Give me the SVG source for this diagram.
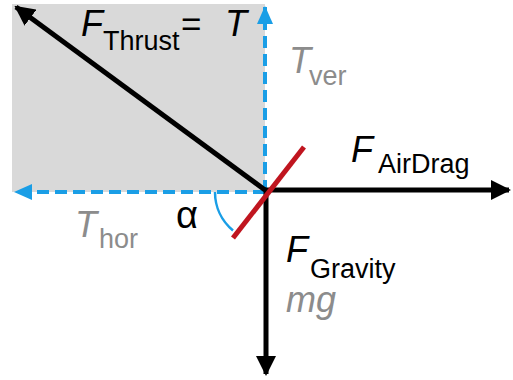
<svg xmlns="http://www.w3.org/2000/svg" width="513" height="380" viewBox="0 0 513 380">
<defs>
<style>
.blk{stroke:#000;stroke-width:5;fill:none}
.blue{stroke:#1a9ee6;stroke-width:4;stroke-dasharray:12 6;fill:none}
.t{font-family:"Liberation Sans",Arial,sans-serif}
.big{font-size:36px;font-style:italic}
.sub{font-size:27px}
.gray{fill:#8c8c8c}
</style>
<marker id="ah" viewBox="0 0 20 20" refX="18" refY="10" markerWidth="20" markerHeight="20" markerUnits="userSpaceOnUse" orient="auto"><path d="M0,0 L20,10 L0,20 Z" fill="#000"/></marker>
<marker id="bh" viewBox="0 0 18 16" refX="17" refY="8" markerWidth="18" markerHeight="16" markerUnits="userSpaceOnUse" orient="auto"><path d="M0,0 L18,8 L0,16 Z" fill="#1a9ee6"/></marker>
</defs>
<rect x="12" y="4" width="253" height="188" fill="#d9d9d9"/>
<g id="connectors">
<line class="blue" x1="265" y1="192" x2="265" y2="7" marker-end="url(#bh)"/>
<line class="blue" x1="265" y1="192" x2="15" y2="192" marker-end="url(#bh)"/>
<line class="blk" x1="265" y1="190" x2="16" y2="7" marker-end="url(#ah)"/>
<line class="blk" x1="264" y1="190" x2="509" y2="190" marker-end="url(#ah)"/>
<line class="blk" x1="266" y1="188" x2="266" y2="374" marker-end="url(#ah)"/>
<line x1="233" y1="238" x2="304" y2="147" stroke="#c0151f" stroke-width="5"/>
<path d="M215,192 A50,50 0 0 0 233,230.5" stroke="#1a9ee6" stroke-width="2.5" fill="none"/>
</g>
<g id="thrust" class="t">
<text class="big" x="81" y="36">F</text>
<text class="sub" x="103" y="50">Thrust</text>
<text x="181" y="36" font-size="35px">=</text>
<text class="big" x="225" y="36">T</text>
</g>
<g id="tver" class="t gray">
<text class="big" x="289" y="73">T</text>
<text class="sub" x="309" y="85">ver</text>
</g>
<g id="thor" class="t gray">
<text class="big" x="75" y="237">T</text>
<text class="sub" x="99" y="248">hor</text>
</g>
<g id="alpha" class="t">
<text x="176" y="228" font-size="38px">α</text>
</g>
<g id="airdrag" class="t">
<text class="big" x="351" y="162">F</text>
<text class="sub" x="378" y="173">AirDrag</text>
</g>
<g id="gravity" class="t">
<text class="big" x="286" y="262">F</text>
<text class="sub" x="310" y="278">Gravity</text>
<text class="big gray" x="286" y="312">mg</text>
</g>
</svg>
